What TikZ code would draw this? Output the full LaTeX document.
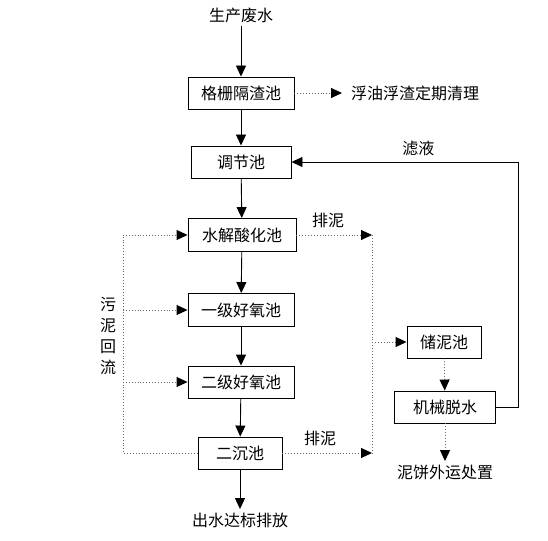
\documentclass[tikz,border=0pt]{standalone}
\usepackage{fontspec}
\setmainfont{Noto Sans CJK SC}
\usetikzlibrary{arrows.meta}

\begin{document}
\begin{tikzpicture}[x=1pt, y=-1pt, font=\fontsize{16}{20}\selectfont,
  pool/.style = {draw, line width=0.9pt, minimum height=32pt, inner sep=0pt},
  flow/.style = {line width=0.9pt, -{Triangle[length=11pt, width=10pt]}},
  dotflow/.style = {gray!80!black, dotted, line width=0.9pt, -{Triangle[length=11pt, width=10pt, black]}},
  dotline/.style = {gray!80!black, dotted, line width=0.9pt}]
\useasboundingbox (0,0) rectangle (548,540);
\node (src) at (241,15) {生产废水};
\node[pool, minimum width=106pt] (gs) at (241,93) {格栅隔渣池};
\node[anchor=west, inner sep=0pt] (fy) at (351,93) {浮油浮渣定期清理};
\node[pool, minimum width=100pt] (tj) at (241,162) {调节池};
\node[pool, minimum width=108pt, minimum height=33pt] (sj) at (242,235) {水解酸化池};
\node[pool, minimum width=106pt, minimum height=33pt] (yj) at (241,310) {一级好氧池};
\node[pool, minimum width=106pt] (ej) at (241,382) {二级好氧池};
\node[pool, minimum width=84pt] (ec) at (240,453) {二沉池};
\node (out) at (240,520) {出水达标排放};
\node[pool, minimum width=74pt] (cn) at (444,342) {储泥池};
\node[pool, minimum width=101pt] (jx) at (445,407) {机械脱水};
\node (nb) at (445,472) {泥饼外运处置};
\node[align=center, font=\fontsize{16}{21}\selectfont] (wn) at (108,336) {污\\泥\\回\\流};
\coordinate (hl) at (123,235);
\coordinate (hb) at (123,453);
\coordinate (rt) at (372,235);
\coordinate (rb) at (372,453);
\coordinate (fr) at (518,162);
\draw[flow] (src) -- (gs);
\draw[flow] (gs) -- (tj);
\draw[flow] (tj) -- (sj);
\draw[flow] (sj) -- (yj);
\draw[flow] (yj) -- (ej);
\draw[flow] (ej) -- (ec);
\draw[flow] (ec) -- (out);
\draw[dotflow] (gs.east) -- ([xshift=-9pt]fy.west);
\draw[dotline] (ec.west) -- (hb) -- (hl);
\draw[dotflow] (hl) -- (sj.west);
\draw[dotflow] (hl |- yj.west) -- (yj.west);
\draw[dotflow] (hl |- ej.west) -- (ej.west);
\draw[dotflow] (sj.east) -- (rt) node[pos=0.42, above=3pt, text=black] {排泥};
\draw[dotflow] (ec.east) -- (rb) node[pos=0.42, above=3pt, text=black] {排泥};
\draw[dotline] (rt) -- (rb);
\draw[dotflow] (rt |- cn.west) -- (cn.west);
\draw[dotflow] (cn) -- (jx);
\draw[dotflow] (jx) -- (nb);
\draw[flow] (jx.east) -| (fr) -- (tj.east) node[pos=0.44, above=2pt] {滤液};
\end{tikzpicture}
\end{document}
